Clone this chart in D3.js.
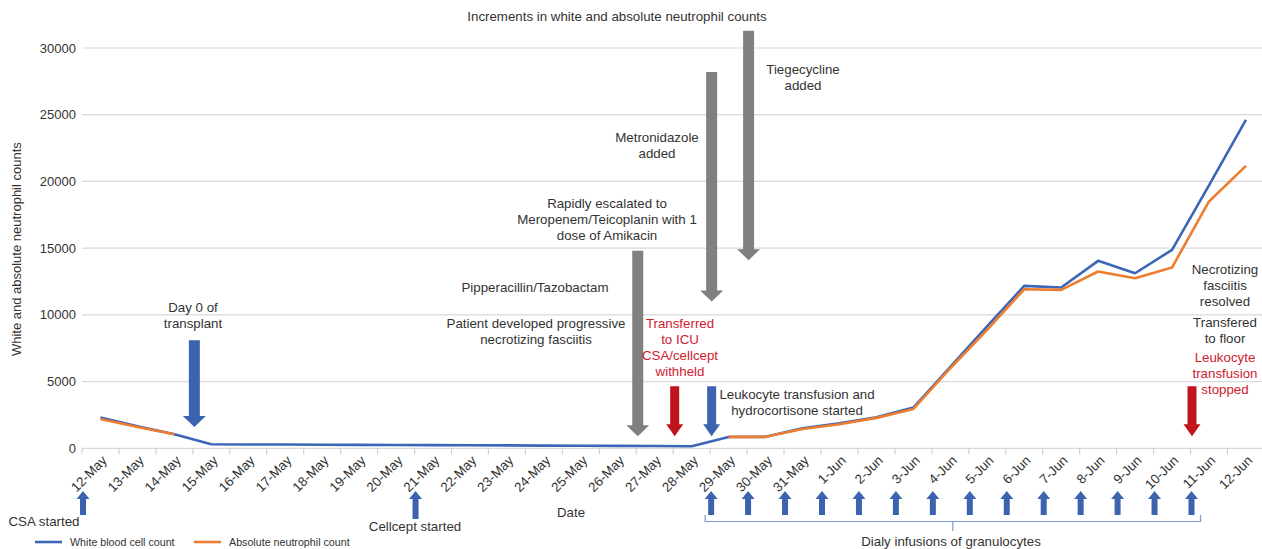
<!DOCTYPE html>
<html>
<head>
<meta charset="utf-8">
<script src="https://cdn.jsdelivr.net/npm/d3@7"></script>
<style>
  body { margin: 0; background: #fff; }
  text { font-family: "Liberation Sans", Arial, sans-serif; }
</style>
</head>
<body>
<div id="chart"></div>
<script>
const dates = ["12-May","13-May","14-May","15-May","16-May","17-May","18-May","19-May","20-May",
  "21-May","22-May","23-May","24-May","25-May","26-May","27-May","28-May","29-May","30-May","31-May",
  "1-Jun","2-Jun","3-Jun","4-Jun","5-Jun","6-Jun","7-Jun","8-Jun","9-Jun","10-Jun","11-Jun","12-Jun"];

const wbc = [2300, 1650, 1060, 300, 290, 280, 270, 260, 250, 240, 230, 220, 200, 190, 180, 170, 150,
  850, 860, 1500, 1870, 2320, 3050, 6100, 9150, 12170, 12050, 14050, 13120, 14870, 19700, 24620];

const anc = [2200, 1600, 1050, null, null, null, null, null, null, null, null, null, null, null, null, null, null,
  860, 860, 1450, 1800, 2280, 2950, 6000, 8900, 11920, 11870, 13250, 12750, 13550, 18500, 21170];

const yTicks = [0, 5000, 10000, 15000, 20000, 25000, 30000];

// down arrows: category (drawn at its tick), value range
const downArrows = [
  { cat: "15-May", top: 8100, bottom: 1600, color: "#3b63ae", size: "big" },
  { cat: "27-May", top: 14800, bottom: 900, color: "#808080", size: "big" },
  { cat: "29-May", top: 28200, bottom: 11000, color: "#808080", size: "big" },
  { cat: "30-May", top: 31300, bottom: 14100, color: "#808080", size: "big" },
  { cat: "28-May", top: 4650, bottom: 900, color: "#c0141c", size: "small" },
  { cat: "29-May", top: 4650, bottom: 900, color: "#3b63ae", size: "small" },
  { cat: "11-Jun", top: 4650, bottom: 900, color: "#c0141c", size: "small" }
];

const upArrowCats = ["12-May", "21-May", "29-May", "30-May", "31-May", "1-Jun", "2-Jun", "3-Jun", "4-Jun",
  "5-Jun", "6-Jun", "7-Jun", "8-Jun", "9-Jun", "10-Jun", "11-Jun"];

// text notes: x = pixel centre, y = centre of first line
const notes = [
  { x: 617, y: 16.5, lines: ["Increments in white and absolute neutrophil counts"], color: "#333" },
  { x: 803, y: 69.5, lines: ["Tiegecycline", "added"], color: "#333" },
  { x: 657, y: 137.5, lines: ["Metronidazole", "added"], color: "#333" },
  { x: 607, y: 203, lines: ["Rapidly escalated to", "Meropenem/Teicoplanin with 1", "dose of Amikacin"], color: "#333" },
  { x: 535, y: 287, lines: ["Pipperacillin/Tazobactam"], color: "#333" },
  { x: 536, y: 323.5, lines: ["Patient developed progressive", "necrotizing fasciitis"], color: "#333" },
  { x: 680, y: 323.5, lines: ["Transferred", "to ICU", "CSA/cellcept", "withheld"], color: "#d0202e" },
  { x: 797, y: 394.5, lines: ["Leukocyte transfusion and", "hydrocortisone started"], color: "#333" },
  { x: 193, y: 307, lines: ["Day 0 of", "transplant"], color: "#333" },
  { x: 1225, y: 269.5, lines: ["Necrotizing", "fasciitis", "resolved"], color: "#333" },
  { x: 1225, y: 322, lines: ["Transfered", "to floor"], color: "#333" },
  { x: 1225, y: 357, lines: ["Leukocyte", "transfusion", "stopped"], color: "#d0202e" },
  { x: 44, y: 521.5, lines: ["CSA started"], color: "#333" },
  { x: 415, y: 526, lines: ["Cellcept started"], color: "#333" },
  { x: 571, y: 512, lines: ["Date"], color: "#333" },
  { x: 951, y: 541, lines: ["Dialy infusions of granulocytes"], color: "#333" }
];

const width = 1262, height = 549;
const left = 82, bw = 36.95;

const svg = d3.select("#chart")
  .append("svg")
    .attr("width", width)
    .attr("height", height);

const x = d3.scaleBand()
  .domain(dates)
  .range([left, left + dates.length * bw])
  .padding(0);

const y = d3.scaleLinear()
  .domain([0, 30000])
  .range([448.3, 48]);

const cx = d => x(d) + x.bandwidth() / 2;

// gridlines
svg.append("g")
  .selectAll("line")
  .data(yTicks)
  .join("line")
    .attr("x1", left)
    .attr("x2", width)
    .attr("y1", d => y(d))
    .attr("y2", d => y(d))
    .attr("stroke", "#d9d9d9")
    .attr("stroke-width", 1.2);

// y tick labels
svg.append("g")
  .selectAll("text")
  .data(yTicks)
  .join("text")
    .text(d => d)
    .attr("x", 76)
    .attr("y", d => y(d))
    .attr("dy", "0.35em")
    .attr("text-anchor", "end")
    .attr("fill", "#333")
    .style("font-size", "13px");

// y title
svg.append("text")
  .text("White and absolute neutrophil counts")
  .attr("transform", `translate(16, ${y(15000) + 1}) rotate(-90)`)
  .attr("text-anchor", "middle")
  .attr("dy", "0.35em")
  .attr("fill", "#333")
  .style("font-size", "13px");

// x tick marks at category boundaries
const boundaries = dates.map(d => x(d)).concat([x(dates[dates.length - 1]) + x.bandwidth()]);
svg.append("g")
  .selectAll("line")
  .data(boundaries)
  .join("line")
    .attr("x1", d => d)
    .attr("x2", d => d)
    .attr("y1", y(0))
    .attr("y2", y(0) + 6)
    .attr("stroke", "#d0d0d0")
    .attr("stroke-width", 1.2);

// x labels
svg.append("g")
  .selectAll("text")
  .data(dates)
  .join("text")
    .text(d => d)
    .attr("transform", d => `translate(${cx(d) + 4}, 458) rotate(-45)`)
    .attr("text-anchor", "end")
    .attr("dy", "0.35em")
    .attr("fill", "#333")
    .style("font-size", "13.3px");

// lines
const line = d3.line()
  .defined(d => d.v != null)
  .x(d => cx(d.date))
  .y(d => y(d.v));

const series = [
  { name: "White blood cell count", values: wbc, color: "#3c66b6" },
  { name: "Absolute neutrophil count", values: anc, color: "#ed7d31" }
];

series.forEach(s => {
  svg.append("path")
    .datum(dates.map((date, i) => ({ date, v: s.values[i] })))
    .attr("fill", "none")
    .attr("stroke", s.color)
    .attr("stroke-width", 2.6)
    .attr("stroke-linejoin", "round")
    .attr("d", line);
});

// block arrows
const arrowSizes = {
  big: { shaft: 11, head: 23, headH: 11 },
  small: { shaft: 9, head: 17, headH: 12 }
};

const downPath = (xc, top, bottom, sz) => {
  const s = sz.shaft / 2, h = sz.head / 2, hy = bottom - sz.headH;
  return `M${xc - s},${top}L${xc + s},${top}L${xc + s},${hy}L${xc + h},${hy}L${xc},${bottom}L${xc - h},${hy}L${xc - s},${hy}Z`;
};

svg.append("g")
  .selectAll("path")
  .data(downArrows)
  .join("path")
    .attr("d", d => downPath(x(d.cat) + 1.5, y(d.top), y(d.bottom), arrowSizes[d.size]))
    .attr("fill", d => d.color);

// small up arrows under the axis
const upPath = (xc, top, bottom) => {
  const s = 3, h = 6.5, hy = top + 8;
  return `M${xc},${top}L${xc + h},${hy}L${xc + s},${hy}L${xc + s},${bottom}L${xc - s},${bottom}L${xc - s},${hy}L${xc - h},${hy}Z`;
};

svg.append("g")
  .selectAll("path")
  .data(upArrowCats)
  .join("path")
    .attr("d", d => upPath(x(d) + 1, 491, d === "21-May" ? 519 : 515))
    .attr("fill", "#3b63ae");

// bracket for daily infusions
const bx1 = x("29-May") - 5, bx2 = x("11-Jun") + 10, bmid = (bx1 + bx2) / 2;
svg.append("path")
  .attr("d", `M${bx1},515L${bx1},521.5L${bx2},521.5L${bx2},515M${bmid},521.5L${bmid},531`)
  .attr("fill", "none")
  .attr("stroke", "#7b9bd6")
  .attr("stroke-width", 1.2);

// notes
const noteG = svg.append("g")
  .selectAll("text")
  .data(notes)
  .join("text")
    .attr("text-anchor", "middle")
    .attr("fill", d => d.color)
    .style("font-size", "13.3px");

noteG.selectAll("tspan")
  .data(d => d.lines.map((t, i) => ({ t, x: d.x, y: d.y + i * 16 })))
  .join("tspan")
    .attr("x", d => d.x)
    .attr("y", d => d.y)
    .attr("dy", "0.35em")
    .text(d => d.t);

// legend
const legend = svg.append("g")
  .selectAll("g")
  .data(series)
  .join("g")
    .attr("transform", (d, i) => `translate(${35 + i * 159}, 542)`);

legend.append("line")
  .attr("x1", 0)
  .attr("x2", 27)
  .attr("stroke", d => d.color)
  .attr("stroke-width", 2.6);

legend.append("text")
  .text(d => d.name)
  .attr("x", 35)
  .attr("dy", "0.35em")
  .attr("fill", "#333")
  .style("font-size", "10.7px");
</script>
</body>
</html>
